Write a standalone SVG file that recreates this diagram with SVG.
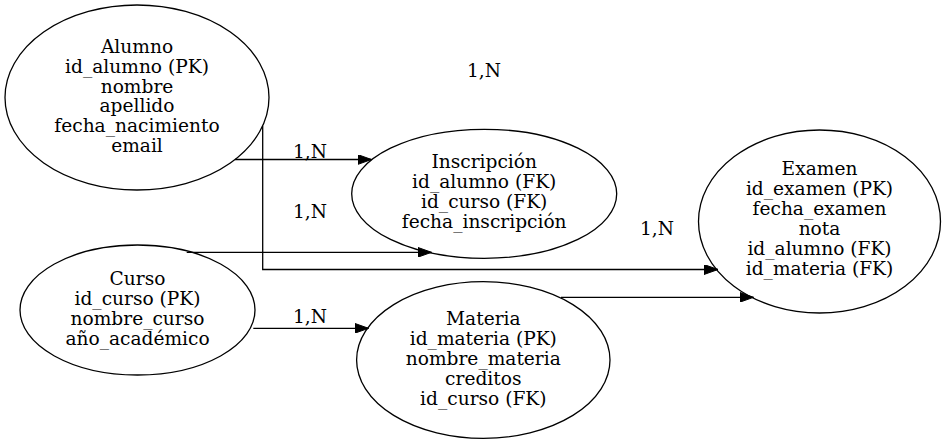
<svg xmlns="http://www.w3.org/2000/svg" width="945" height="444" viewBox="0 0 945 444">
<style>
  .node ellipse { fill: none; stroke: #000; stroke-width: 1.3; }
  text { font-family: "DejaVu Serif", "Liberation Serif", serif; font-size: 18.6px; fill: #000; text-anchor: middle; }
  .edge { fill: none; stroke: #000; stroke-width: 1.3; }
</style>
<defs>
  <marker id="arrow" viewBox="0 0 14 10" refX="14" refY="5" markerWidth="14" markerHeight="10" markerUnits="userSpaceOnUse" orient="auto">
    <path d="M0,0 L14,5 L0,10 Z" fill="#000" stroke="#000" stroke-width="1"/>
  </marker>
</defs>
<rect width="945" height="444" fill="#fff"/>
<g id="connectors">
  <path class="edge" d="M235,159.5 L371.5,159.5" marker-end="url(#arrow)"/>
  <path class="edge" d="M262.7,126 L262.7,269.5 L718,269.5" marker-end="url(#arrow)"/>
  <path class="edge" d="M186.7,252.3 L431.5,252.3" marker-end="url(#arrow)"/>
  <path class="edge" d="M253.3,328.3 L368.5,328.3" marker-end="url(#arrow)"/>
  <path class="edge" d="M561,297.3 L753.5,297.3" marker-end="url(#arrow)"/>
  <text x="310" y="158.3">1,N</text>
  <text x="484" y="76.7">1,N</text>
  <text x="310" y="218.3">1,N</text>
  <text x="657" y="235">1,N</text>
  <text x="310" y="323">1,N</text>
</g>
<g id="alumno" class="node">
  <ellipse cx="137" cy="97.5" rx="132" ry="92.5"/>
  <text x="137" y="53.3">Alumno</text>
  <text x="137" y="73">id_alumno (PK)</text>
  <text x="137" y="92.7">nombre</text>
  <text x="137" y="112.4">apellido</text>
  <text x="137" y="132.1">fecha_nacimiento</text>
  <text x="137" y="151.8">email</text>
</g>
<g id="inscripcion" class="node">
  <ellipse cx="484.2" cy="193.8" rx="132.5" ry="64.5"/>
  <text x="484.2" y="168.3">Inscripción</text>
  <text x="484.2" y="188.3">id_alumno (FK)</text>
  <text x="484.2" y="208.3">id_curso (FK)</text>
  <text x="484.2" y="228.3">fecha_inscripción</text>
</g>
<g id="examen" class="node">
  <ellipse cx="819.5" cy="221.5" rx="121" ry="91.5"/>
  <text x="819.5" y="175">Examen</text>
  <text x="819.5" y="195">id_examen (PK)</text>
  <text x="819.5" y="215">fecha_examen</text>
  <text x="819.5" y="235">nota</text>
  <text x="819.5" y="255">id_alumno (FK)</text>
  <text x="819.5" y="275">id_materia (FK)</text>
</g>
<g id="curso" class="node">
  <ellipse cx="137.5" cy="310" rx="117.5" ry="65"/>
  <text x="137.5" y="285">Curso</text>
  <text x="137.5" y="305">id_curso (PK)</text>
  <text x="137.5" y="325">nombre_curso</text>
  <text x="137.5" y="345">año_académico</text>
</g>
<g id="materia" class="node">
  <ellipse cx="483.3" cy="360" rx="126.7" ry="78.3"/>
  <text x="483.3" y="325">Materia</text>
  <text x="483.3" y="345">id_materia (PK)</text>
  <text x="483.3" y="365">nombre_materia</text>
  <text x="483.3" y="385">creditos</text>
  <text x="483.3" y="405">id_curso (FK)</text>
</g>
</svg>
